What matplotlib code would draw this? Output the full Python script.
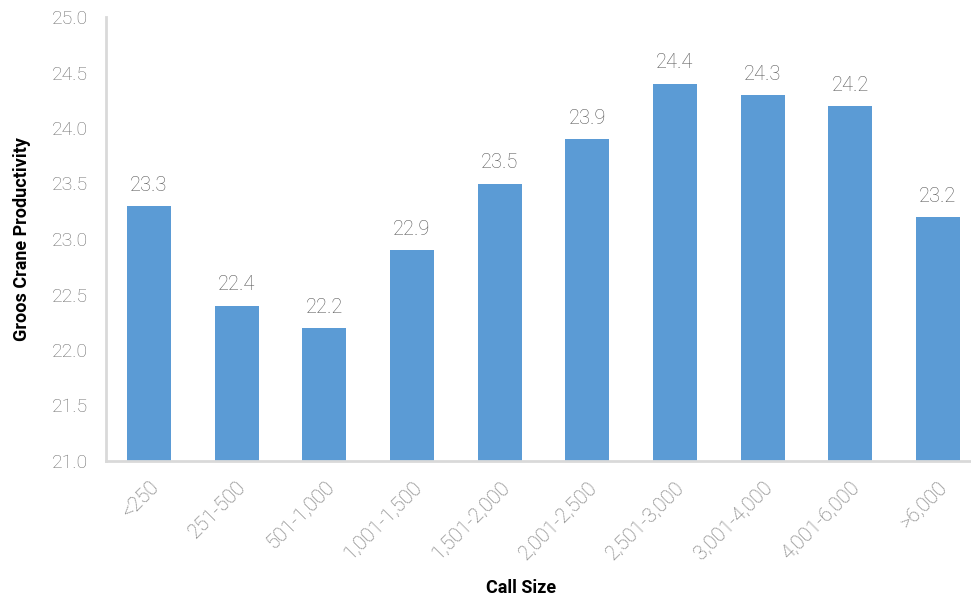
import matplotlib
matplotlib.use("Agg")
import matplotlib.pyplot as plt

categories = ["<250", "251-500", "501-1,000", "1,001-1,500", "1,501-2,000",
              "2,001-2,500", "2,501-3,000", "3,001-4,000", "4,001-6,000", ">6,000"]
values = [23.3, 22.4, 22.2, 22.9, 23.5, 23.9, 24.4, 24.3, 24.2, 23.2]
yticks = [21.0, 21.5, 22.0, 22.5, 23.0, 23.5, 24.0, 24.5, 25.0]

W, H = 971, 602
fig = plt.figure(figsize=(W / 100, H / 100), dpi=100)
ax = fig.add_axes([106 / W, (H - 461) / H, 875 / W, 444 / H])

x = list(range(len(categories)))
ax.bar(x, values, width=0.5, color="#5b9bd5", zorder=2)
ax.set_xlim(-0.49, len(categories) - 0.51)
ax.set_ylim(21.0, 25.0)
ax.set_yticks(yticks)
ax.set_yticklabels([f"{v:.1f}" for v in yticks], fontsize=14, color="#6f6f6f",
                   family="Roboto", fontweight="light")
ax.set_xticks(x)
ax.set_xticklabels(categories, rotation=45, ha="right", rotation_mode="anchor",
                   fontsize=14.5, color="#6f6f6f", family="Roboto", fontweight="light")
ax.tick_params(axis="both", length=0)
ax.tick_params(axis="y", pad=13)
ax.tick_params(axis="x", pad=12)

for xi, v in zip(x, values):
    ax.annotate(f"{v:.1f}", (xi, v), xytext=(0, 8), textcoords="offset points",
                ha="center", va="bottom", fontsize=14.5, color="#595959",
                family="Roboto", fontweight="light")

for s in ["top", "right"]:
    ax.spines[s].set_visible(False)
for s in ["left", "bottom"]:
    ax.spines[s].set_color("#d9d9d9")
    ax.spines[s].set_linewidth(2)

ax.set_xlabel("Call Size", fontsize=13, fontweight="bold", color="black",
              family="Roboto")
ax.set_ylabel("Groos Crane Productivity", fontsize=13, fontweight="bold",
              color="black", family="Roboto")
ax.xaxis.set_label_coords((521 - 106) / 875, -(579 - 461) / 444)
ax.yaxis.set_label_coords(-(106 - 31) / 875, (461 - 239) / 444)

fig.savefig("out.png", dpi=100)
